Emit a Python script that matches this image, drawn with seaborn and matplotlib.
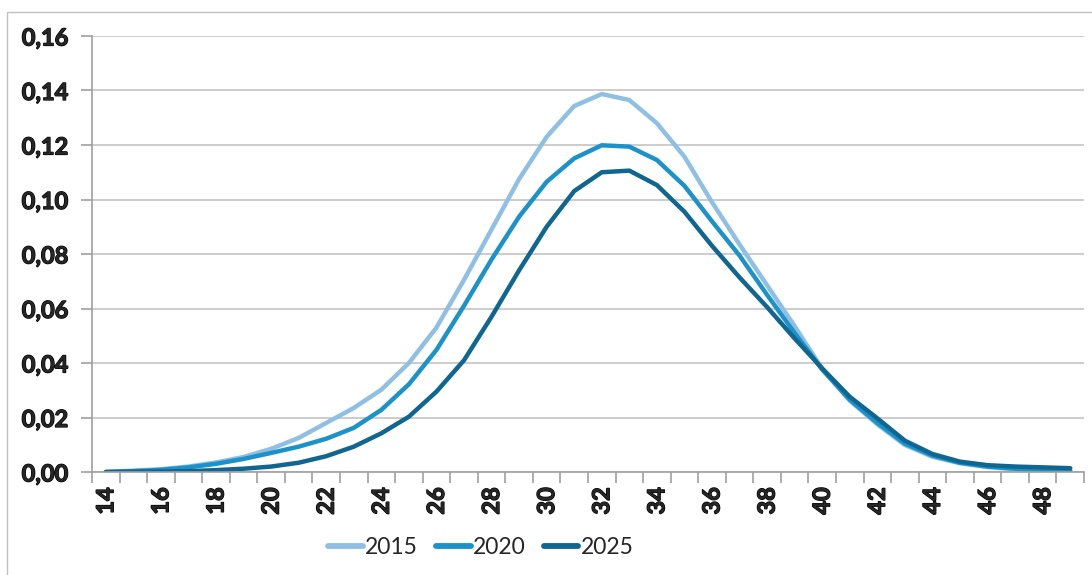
import numpy as np
import pandas as pd
import matplotlib
matplotlib.use("Agg")
import matplotlib.pyplot as plt
import matplotlib.patheffects as pe
from matplotlib.ticker import FixedLocator, FuncFormatter
from matplotlib.patches import Rectangle
import seaborn as sns

ages = list(range(14, 50))
y2015 = [0.0, 0.0005, 0.001, 0.002, 0.0035, 0.0055, 0.0085, 0.0125, 0.018, 0.0235,
         0.0302, 0.040, 0.053, 0.0705, 0.089, 0.1075, 0.123, 0.1343, 0.1387, 0.1365,
         0.128, 0.1157, 0.099, 0.0835, 0.0685, 0.0535, 0.0378, 0.0262, 0.0175, 0.0099,
         0.0056, 0.0032, 0.0018, 0.0010, 0.0006, 0.0004]
y2020 = [0.0, 0.0003, 0.0008, 0.0017, 0.003, 0.0048, 0.007, 0.0093, 0.0122, 0.0162,
         0.0228, 0.0322, 0.0448, 0.061, 0.078, 0.0937, 0.1065, 0.1151, 0.1199, 0.1194,
         0.1145, 0.105, 0.092, 0.0794, 0.065, 0.051, 0.0376, 0.0265, 0.0180, 0.0104,
         0.0060, 0.0034, 0.0020, 0.0012, 0.0008, 0.0006]
y2025 = [0.0, 0.0001, 0.0002, 0.0003, 0.0007, 0.0012, 0.002, 0.0034, 0.0058, 0.0093,
         0.0142, 0.0203, 0.0295, 0.041, 0.057, 0.074, 0.090, 0.1031, 0.110, 0.1106,
         0.1053, 0.0955, 0.083, 0.0714, 0.0605, 0.049, 0.038, 0.0276, 0.0197, 0.0115,
         0.0066, 0.0038, 0.0025, 0.0020, 0.0017, 0.0014]
series_names = ["2015", "2020", "2025"]
colors = ["#8FC0E4", "#1B92C9", "#0F6690"]
y_ticks = [0.0, 0.02, 0.04, 0.06, 0.08, 0.10, 0.12, 0.14, 0.16]
x_labels = list(range(14, 49, 2))

df = pd.DataFrame({
    "age": ages * 3,
    "value": y2015 + y2020 + y2025,
    "year": sum([[n] * len(ages) for n in series_names], []),
})

sns.set_style("white")
plt.rcParams["font.family"] = ["Lato", "DejaVu Sans"]

fig = plt.figure(figsize=(10.92, 5.75), dpi=100)
ax = fig.add_axes([92 / 1092, 1 - 472 / 575, (1084 - 92) / 1092, (472 - 36) / 575])

sns.lineplot(data=df, x="age", y="value", hue="year", palette=colors,
             linewidth=3.2, ax=ax, legend=True)

ax.set_xlim(13.5, 49.5)
ax.set_ylim(0, 0.16)
ax.set_xlabel("")
ax.set_ylabel("")

ax.yaxis.set_major_locator(FixedLocator(y_ticks))
ax.yaxis.set_major_formatter(FuncFormatter(lambda v, p: f"{v:.2f}".replace(".", ",")))
ax.grid(axis="y", color="#C8C8C8", linewidth=1.3)
ax.set_axisbelow(True)

ax.xaxis.set_major_locator(FixedLocator(x_labels))
ax.set_xticklabels([str(v) for v in x_labels], rotation=90, fontweight="bold", fontsize=17)
ax.xaxis.set_minor_locator(FixedLocator(np.arange(13.5, 50, 1)))
ax.tick_params(axis="x", which="major", length=0, pad=11)
ax.tick_params(axis="x", which="minor", length=8, color="#A0A0A0", width=1.2, bottom=True)
ax.tick_params(axis="y", which="major", length=8, color="#A0A0A0", width=1.2, left=True,
               labelsize=17, pad=9)
bold_fx = [pe.withStroke(linewidth=0.9, foreground="black")]
for lab in ax.get_yticklabels() + ax.get_xticklabels():
    lab.set_fontweight("bold")
    lab.set_path_effects(bold_fx)

for s in ["top", "right"]:
    ax.spines[s].set_visible(False)
for s in ["left", "bottom"]:
    ax.spines[s].set_color("#A0A0A0")
    ax.spines[s].set_linewidth(1.2)

handles, labels = ax.get_legend_handles_labels()
for h in handles:
    h.set_solid_capstyle("round")
    h.set_linewidth(4.2)
ax.legend(handles, labels, loc="center", bbox_to_anchor=(481 / 1092, 1 - 548 / 575),
          bbox_transform=fig.transFigure, ncol=3, frameon=False, fontsize=16.5,
          handlelength=1.5, handletextpad=0.1, columnspacing=0.8)

fig.patches.append(Rectangle((7 / 1092, -0.01), 1.2, 1 - 12 / 575 + 0.01,
                             transform=fig.transFigure, fill=False,
                             edgecolor="#C0C0C0", linewidth=1.0))

fig.savefig("out.png", dpi=100, facecolor="white")
